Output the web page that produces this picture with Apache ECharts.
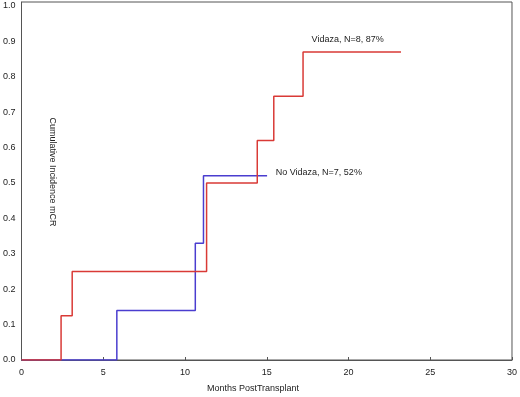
<!DOCTYPE html>
<html>
<head>
<meta charset="utf-8">
<script src="https://cdn.jsdelivr.net/npm/echarts@6/dist/echarts.min.js"></script>
<style>
  html, body { margin: 0; padding: 0; background: #fff; }
  #chart { width: 520px; height: 397px; }
</style>
</head>
<body>
<div id="chart"></div>
<script>
// step data: [months, cumulative incidence after the jump]
var vidazaTimes = [0, 2.42, 3.1, 11.32, 14.42, 15.43, 17.22, 23.21];
var vidazaValues = [0, 0.125, 0.25, 0.5, 0.62, 0.745, 0.87, 0.87];
var noVidazaTimes = [0, 5.83, 10.63, 11.13, 15.02];
var noVidazaValues = [0, 0.14, 0.33, 0.52, 0.52];
var xTicks = [0, 5, 10, 15, 20, 25, 30];
var yTicks = [0, 0.1, 0.2, 0.3, 0.4, 0.5, 0.6, 0.7, 0.8, 0.9, 1.0];

var textFont = "Liberation Sans, Arial, sans-serif";

function pairs(xs, ys) {
  return xs.map(function (x, i) { return [x, ys[i]]; });
}

var chartDom = document.getElementById("chart");
var myChart = echarts.init(chartDom, null, { renderer: "canvas" });
var option = {
  animation: false,
  backgroundColor: "#fff",
  grid: {
    left: 21,
    right: 3,
    top: 2,
    bottom: 37,
    show: true,
    borderColor: "#555",
    borderWidth: 1,
  },
  xAxis: {
    type: "value",
    min: xTicks[0],
    max: xTicks[xTicks.length - 1],
    interval: 5,
    axisLine: { show: true, lineStyle: { color: "#555" } },
    axisTick: { show: true, inside: true, length: 3, lineStyle: { color: "#555" } },
    axisLabel: {
      color: "#222",
      fontSize: 9,
      fontFamily: textFont,
      margin: 8,
    },
    splitLine: { show: false },
  },
  yAxis: {
    type: "value",
    min: 0,
    max: 1.011,
    interval: 0.1,
    axisLine: { show: true, lineStyle: { color: "#555" } },
    axisTick: { show: false },
    axisLabel: {
      color: "#222",
      fontSize: 9,
      fontFamily: textFont,
      margin: 6,
      formatter: function (v) {
        for (var i = 0; i < yTicks.length; i++) {
          if (Math.abs(v - yTicks[i]) < 1e-6) return yTicks[i].toFixed(1);
        }
        return "";
      },
    },
    splitLine: { show: false },
  },
  series: [
    {
      name: "No Vidaza",
      type: "line",
      step: "end",
      symbol: "none",
      data: pairs(noVidazaTimes, noVidazaValues),
      lineStyle: { color: "#4a3dcf", width: 1.5 },
    },
    {
      name: "Vidaza",
      type: "line",
      step: "end",
      symbol: "none",
      data: pairs(vidazaTimes, vidazaValues),
      lineStyle: { color: "#d93a36", width: 1.5 },
    },
  ],
};
myChart.setOption(option);

// labels placed in data coordinates
var p1 = myChart.convertToPixel({ gridIndex: 0 }, [19.95, 0.905]);
var p2 = myChart.convertToPixel({ gridIndex: 0 }, [15.55, 0.53]);
myChart.setOption({
  graphic: [
    {
      type: "text",
      x: p1[0], y: p1[1],
      style: { text: "Vidaza, N=8, 87%", fill: "#222", font: "9px " + textFont, align: "center", verticalAlign: "middle" },
    },
    {
      type: "text",
      x: p2[0], y: p2[1],
      style: { text: "No Vidaza, N=7, 52%", fill: "#222", font: "9px " + textFont, align: "left", verticalAlign: "middle" },
    },
    {
      type: "text",
      x: 52, y: 172,
      rotation: -Math.PI / 2,
      style: { text: "Cumulative Incidence mCR", fill: "#222", font: "9px " + textFont, align: "center", verticalAlign: "middle" },
    },
    {
      type: "text",
      x: 253, y: 389,
      style: { text: "Months PostTransplant", fill: "#222", font: "9px " + textFont, align: "center", verticalAlign: "middle" },
    },
  ],
});
</script>
</body>
</html>
